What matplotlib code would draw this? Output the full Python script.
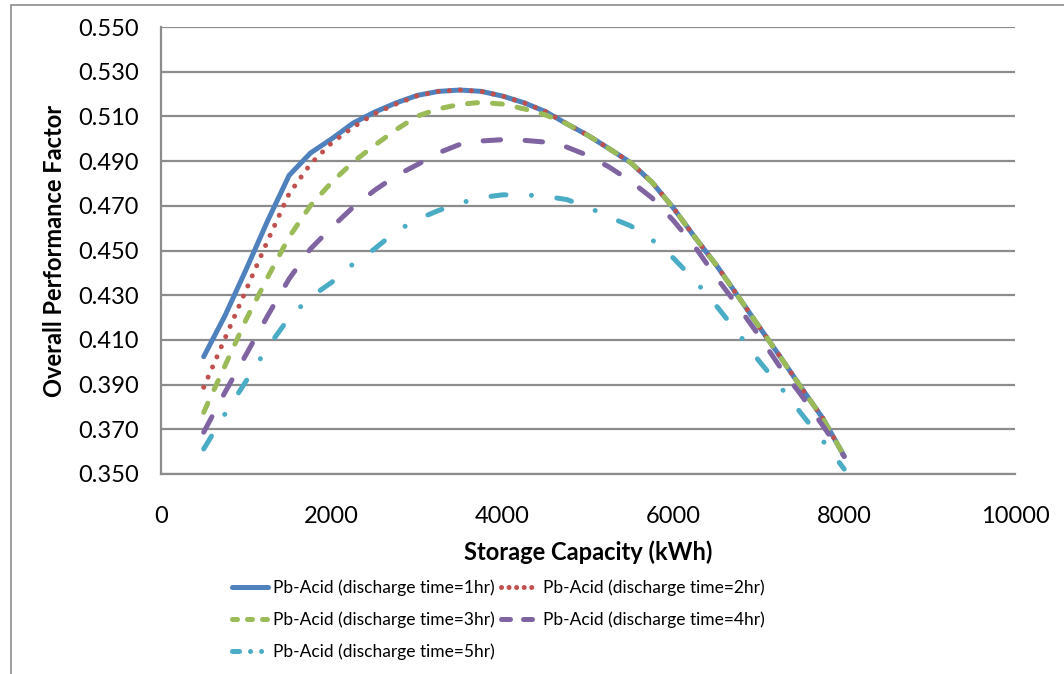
import numpy as np
import matplotlib
matplotlib.use('Agg')
import matplotlib.pyplot as plt
from matplotlib.patches import Rectangle
from matplotlib.lines import Line2D

# storage capacity (kWh)
capacity = [500, 750, 1000, 1250, 1500, 1750, 2000, 2250, 2500, 2750,
            3000, 3250, 3500, 3750, 4000, 4250, 4500, 4750, 5000, 5250,
            5500, 5750, 6000, 6250, 6500, 6750, 7000, 7250, 7500, 7750, 8000]

# overall performance factor, one list per discharge time
pf_1hr = [0.4025, 0.4209, 0.4418, 0.4634, 0.4836, 0.4936, 0.5000, 0.5070, 0.5119, 0.5160,
          0.5194, 0.5212, 0.5218, 0.5212, 0.5191, 0.5161, 0.5122, 0.5067, 0.5015, 0.4955,
          0.4893, 0.4805, 0.4690, 0.4560, 0.4436, 0.4299, 0.4161, 0.4025, 0.3885, 0.3749, 0.3580]
pf_2hr = [0.3888, 0.4108, 0.4327, 0.4545, 0.4754, 0.4887, 0.4982, 0.5052, 0.5112, 0.5155,
          0.5192, 0.5212, 0.5218, 0.5212, 0.5191, 0.5161, 0.5122, 0.5067, 0.5015, 0.4955,
          0.4893, 0.4805, 0.4690, 0.4560, 0.4436, 0.4299, 0.4161, 0.4025, 0.3885, 0.3749, 0.3580]
pf_3hr = [0.3776, 0.3985, 0.4194, 0.4381, 0.4560, 0.4701, 0.4806, 0.4896, 0.4970, 0.5040,
          0.5101, 0.5134, 0.5154, 0.5163, 0.5155, 0.5134, 0.5107, 0.5067, 0.5015, 0.4955,
          0.4893, 0.4805, 0.4690, 0.4560, 0.4436, 0.4299, 0.4161, 0.4025, 0.3885, 0.3749, 0.3580]
pf_4hr = [0.3687, 0.3866, 0.4037, 0.4209, 0.4373, 0.4507, 0.4604, 0.4694, 0.4769, 0.4834,
          0.4884, 0.4937, 0.4975, 0.4990, 0.4996, 0.4993, 0.4985, 0.4963, 0.4925, 0.4873,
          0.4810, 0.4735, 0.4634, 0.4518, 0.4381, 0.4254, 0.4120, 0.3978, 0.3851, 0.3716, 0.3578]
pf_5hr = [0.3612, 0.3769, 0.3918, 0.4067, 0.4199, 0.4291, 0.4358, 0.4440, 0.4507, 0.4585,
          0.4639, 0.4679, 0.4712, 0.4737, 0.4749, 0.4749, 0.4743, 0.4728, 0.4694, 0.4649,
          0.4610, 0.4548, 0.4466, 0.4366, 0.4254, 0.4134, 0.4007, 0.3891, 0.3769, 0.3649, 0.3522]

labels = ['Pb-Acid (discharge time=1hr)', 'Pb-Acid (discharge time=2hr)',
          'Pb-Acid (discharge time=3hr)', 'Pb-Acid (discharge time=4hr)',
          'Pb-Acid (discharge time=5hr)']
colors = ['#4F81BD', '#C0504D', '#9BBB59', '#8064A2', '#4BACC6']

plt.rcParams['font.family'] = ['Lato', 'DejaVu Sans']

fig = plt.figure(figsize=(10.64, 6.74), dpi=100)
ax = fig.add_axes([161/1064, 1 - 474/674, (1015 - 161)/1064, (474 - 27)/674])

# outer chart border (cut off at right and bottom)
fig.patches.append(Rectangle((11/1064, -0.1), 1.2, 1 - 5/674 + 0.1, transform=fig.transFigure,
                             fill=False, edgecolor='#8c8c8c', lw=1.2))

lw = 3.6
styles = ['-', (0, (0.01, 2.2)), (0, (2.0, 3.0)), (0, (3.5, 4.9)), (0, (3.0, 5.1, 0.01, 5.1))]
# shorter patterns for the legend keys
key_styles = ['-', (0, (0.01, 1.5)), (0, (1.0, 2.0)), (0, (1.8, 2.6)),
              (0, (1.4, 2.2, 0.01, 2.2, 0.01, 10))]

series = [pf_1hr, pf_2hr, pf_3hr, pf_4hr, pf_5hr]
keys = []
for i in range(5):
    ax.plot(capacity, series[i], color=colors[i], lw=lw, linestyle=styles[i],
            dash_capstyle='round', solid_capstyle='round')
    keys.append(Line2D([], [], color=colors[i], lw=lw, linestyle=key_styles[i],
                       dash_capstyle='round', solid_capstyle='round'))

ax.set_xlim(0, 10000)
ax.set_ylim(0.350, 0.550)
ax.set_xticks(np.arange(0, 10001, 2000))
ax.set_yticks(np.arange(0.350, 0.5501, 0.020))
ax.yaxis.set_major_formatter(matplotlib.ticker.FormatStrFormatter('%.3f'))
ax.tick_params(length=0, labelsize=17)
ax.tick_params(axis='x', pad=23)
ax.tick_params(axis='y', pad=16)
ax.grid(axis='y', color='#8c8c8c', lw=1.6)
ax.set_axisbelow(True)
for s in ['top', 'right']:
    ax.spines[s].set_visible(False)
for s in ['left', 'bottom']:
    ax.spines[s].set_color('#8c8c8c')
    ax.spines[s].set_linewidth(1.6)

ax.set_xlabel('Storage Capacity (kWh)', fontsize=17, fontweight='bold', labelpad=10)
ax.set_ylabel('Overall Performance Factor', fontsize=17, fontweight='bold', labelpad=9)

# row-wise order like the original legend
order = [0, 2, 4, 1, 3]
ax.legend([keys[i] for i in order], [labels[i] for i in order], loc='upper left',
          bbox_to_anchor=(216/1064, 1 - 564/674), bbox_transform=fig.transFigure,
          ncol=2, frameon=False, fontsize=12.5,
          handlelength=2.1, columnspacing=0.35, labelspacing=0.89, handletextpad=0.3)

fig.savefig('out.png', dpi=100)
